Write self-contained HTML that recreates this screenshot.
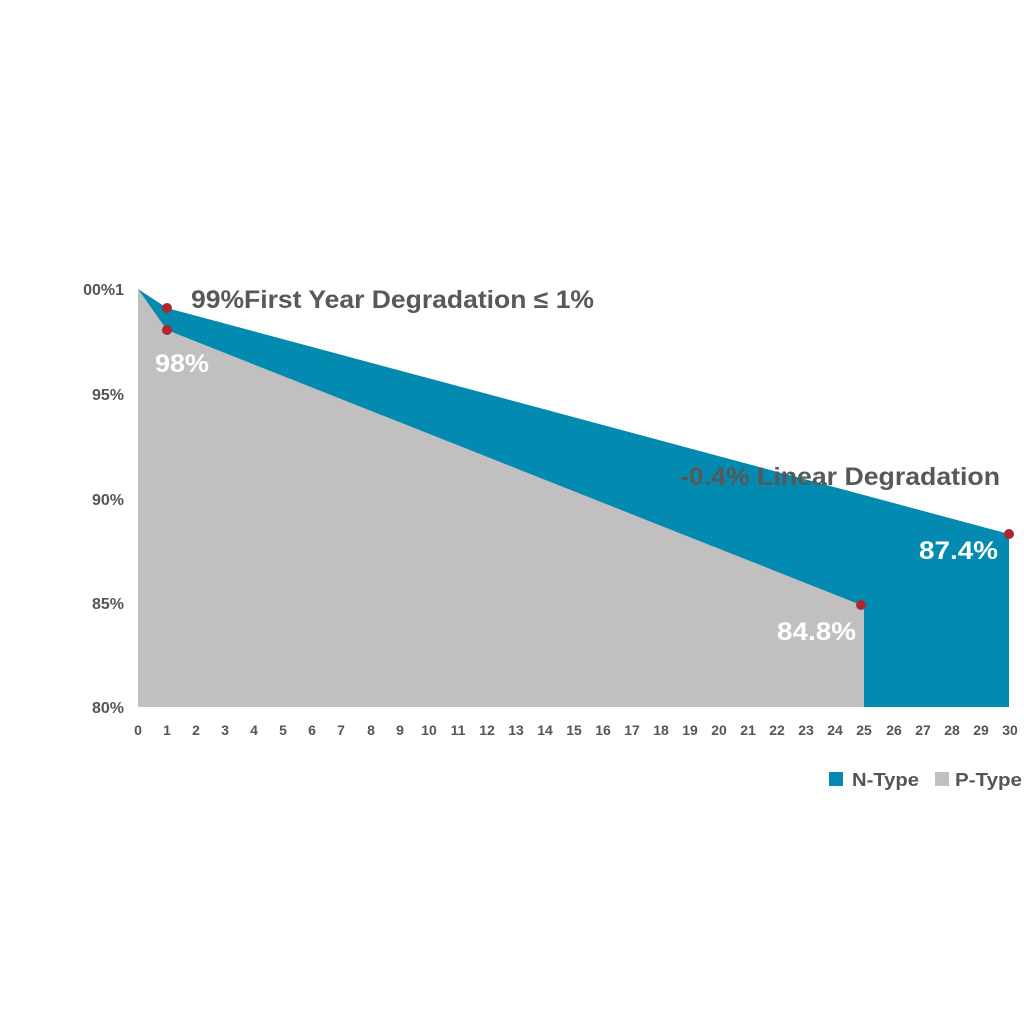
<!DOCTYPE html>
<html><head><meta charset="utf-8"><style>
html,body{margin:0;padding:0;background:#fff;}
svg{display:block;font-family:"Liberation Sans",sans-serif;font-weight:bold;}
</style></head><body>
<svg width="1024" height="1024" viewBox="0 0 1024 1024" xmlns="http://www.w3.org/2000/svg">
<rect width="1024" height="1024" fill="#fff"/>
<polygon points="138,289 167,308 1009,534 1009,707 138,707" fill="#028ab0"/>
<polygon points="138,289 167,330 861,605 864,605 864,707 138,707" fill="#c1bfc0"/>
<circle cx="167" cy="308" r="5" fill="#b0282f"/>
<circle cx="167" cy="330" r="5" fill="#b0282f"/>
<circle cx="861" cy="605" r="5" fill="#b0282f"/>
<circle cx="1009" cy="534" r="5" fill="#b0282f"/>
<g fill="#555" font-size="16" text-anchor="end">
<text x="124" y="295">00%1</text>
<text x="124" y="400">95%</text>
<text x="124" y="505">90%</text>
<text x="124" y="609">85%</text>
<text x="124" y="713">80%</text>
</g>
<g fill="#555" font-size="14" text-anchor="middle">
<text x="138" y="735">0</text><text x="167" y="735">1</text><text x="196" y="735">2</text><text x="225" y="735">3</text><text x="254" y="735">4</text><text x="283" y="735">5</text><text x="312" y="735">6</text><text x="341" y="735">7</text><text x="371" y="735">8</text><text x="400" y="735">9</text><text x="429" y="735">10</text><text x="458" y="735">11</text><text x="487" y="735">12</text><text x="516" y="735">13</text><text x="545" y="735">14</text><text x="574" y="735">15</text><text x="603" y="735">16</text><text x="632" y="735">17</text><text x="661" y="735">18</text><text x="690" y="735">19</text><text x="719" y="735">20</text><text x="748" y="735">21</text><text x="777" y="735">22</text><text x="806" y="735">23</text><text x="835" y="735">24</text><text x="864" y="735">25</text><text x="894" y="735">26</text><text x="923" y="735">27</text><text x="952" y="735">28</text><text x="981" y="735">29</text><text x="1010" y="735">30</text>
</g>
<text x="191" y="308" fill="#585858" font-size="25" textLength="403" lengthAdjust="spacingAndGlyphs">99%First Year Degradation ≤ 1%</text>
<text x="155" y="372" fill="#fff" font-size="25" textLength="54" lengthAdjust="spacingAndGlyphs">98%</text>
<text x="680" y="485" fill="#585858" font-size="25" textLength="320" lengthAdjust="spacingAndGlyphs">-0.4% Linear Degradation</text>
<text x="919" y="559" fill="#fff" font-size="25" textLength="79" lengthAdjust="spacingAndGlyphs">87.4%</text>
<text x="777" y="640" fill="#fff" font-size="25" textLength="79" lengthAdjust="spacingAndGlyphs">84.8%</text>
<rect x="829" y="772" width="14" height="14" fill="#028ab0"/>
<text x="852" y="786" fill="#555" font-size="18" textLength="67" lengthAdjust="spacingAndGlyphs">N-Type</text>
<rect x="935" y="772" width="14" height="14" fill="#c1bfc0"/>
<text x="955" y="786" fill="#555" font-size="18" textLength="67" lengthAdjust="spacingAndGlyphs">P-Type</text>
</svg>
</body></html>
